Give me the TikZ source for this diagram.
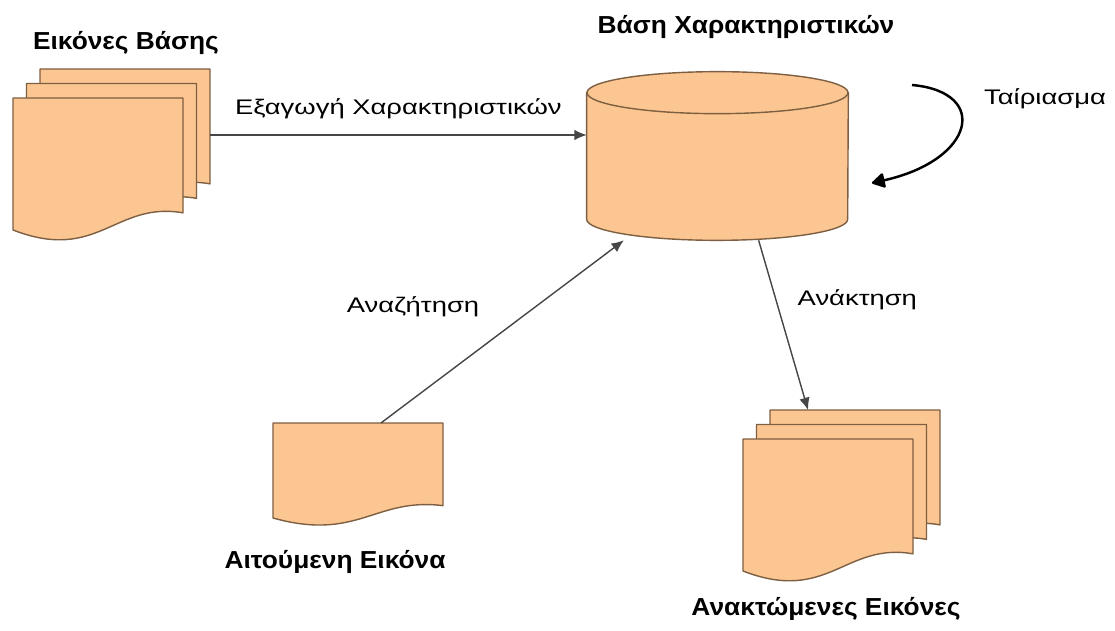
\documentclass[tikz,border=0pt]{standalone}
\usepackage{fontspec}
\setmainfont{Liberation Sans}
\newfontfamily\capfont[FakeStretch=1.07]{Liberation Sans}
\newfontfamily\tagfont[FakeStretch=1.3]{Liberation Sans}
\usetikzlibrary{arrows.meta,calc}
\definecolor{peach}{RGB}{252,198,146}
\definecolor{pagerim}{RGB}{125,95,65}
\definecolor{wire}{RGB}{70,70,70}

\begin{document}
\begin{tikzpicture}[
  x=0.02cm, y=-0.02cm,
  page/.style={fill=peach, draw=pagerim, line width=0.8pt, line join=round},
  store/.style={minimum width=5.22cm, minimum height=3.36cm, inner sep=0pt},
  caption/.style={font=\capfont\bfseries\fontsize{14}{16}\selectfont, inner sep=0pt},
  tag/.style={font=\tagfont\fontsize{12}{14}\selectfont, inner sep=0pt},
  link/.style={draw=wire, line width=0.8pt, -{Latex[length=7pt,width=6pt]}},
  matcharr/.style={line width=1.4pt, -{Triangle[length=8pt,width=9pt,round]}},
  % one sheet with a wavy lower edge, top left corner at the origin
  pics/sheet/.style 2 args={code={
    \draw[page] (0,0) -- (#1,0) -- (#1,0.87*#2)
      .. controls (0.6*#1,0.78*#2) and (0.5*#1,1.25*#2) .. (0,#2) -- cycle;
    \coordinate (-nw) at (0,0);
    \coordinate (-ne) at (#1,0);
  }},
  % three sheets, the front one at the origin
  pics/sheetstack/.style={code={
    \pic at (27,-29) {sheet={170}{132}};
    \pic at (13.5,-14.5) {sheet={170}{132}};
    \pic at (0,0) {sheet={170}{132}};
    \coordinate (-top) at (65,-29);
    \coordinate (-out) at (197,37);
  }}
]
\useasboundingbox[fill=white] (0,0) rectangle (1115,631);

% Image collections and query
\pic (base)  at (13,98)   {sheetstack};
\pic (found) at (743,439) {sheetstack};
\pic (query) at (273,423) {sheet={170}{95}};

% Feature store: body, then the lid
\node[store] (featuredb) at (717.5,156) {};
\draw[page] ($(featuredb.north west)+(0,21)$) -- ($(featuredb.south west)-(0,21)$)
  arc[start angle=180, end angle=0, x radius=130.5, y radius=21]
  -- ($(featuredb.north east)+(0,21)$) -- cycle;
\draw[page] ($(featuredb.north)+(0,21)$) ellipse[x radius=130.5, y radius=21];

% Titles
\node[caption] (basetitle)  at (126,43)  {Εικόνες Βάσης};
\node[caption] (dbtitle)    at (746,27)  {Βάση Χαρακτηριστικών};
\node[caption] (asktitle)   at (335,562) {Αιτούμενη Εικόνα};
\node[caption] (foundtitle) at (826,609) {Ανακτώμενες Εικόνες};

% Connections
\coordinate (asktop) at ($(query-nw)!0.635!(query-ne)$);
\draw[link] (base-out) -- (base-out -| featuredb.west)
  node[tag, midway, above=9pt] {Εξαγωγή Χαρακτηριστικών};
\draw[link] (asktop) -- (featuredb.222);
\node[tag] (searchtag) at (413,307) {Αναζήτηση};
\draw[link] (featuredb.296) -- (found-top)
  node[tag, pos=0.35, anchor=west, xshift=12pt] {Ανάκτηση};

% Matching loop
\coordinate (matchfrom) at (912,85);
\coordinate (matchto)   at (872,183);
\draw[matcharr] (matchfrom) .. controls (990,92) and (975,160) .. (matchto);
\node[tag] (matchtag) at (1045,99) {Ταίριασμα};

\end{tikzpicture}
\end{document}
